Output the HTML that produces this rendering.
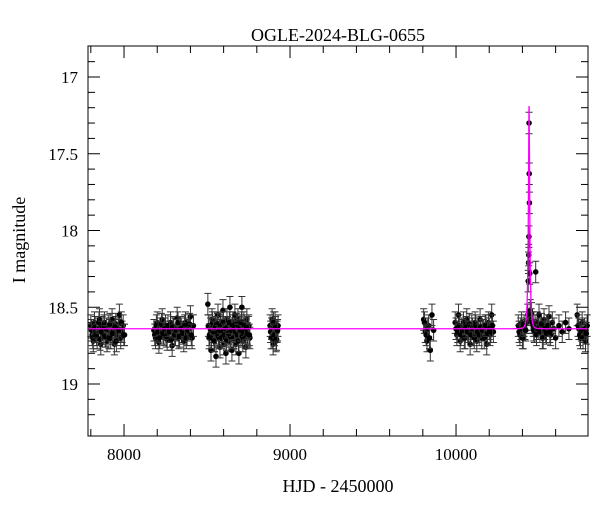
<!DOCTYPE html>
<html><head><meta charset="utf-8"><style>
body{margin:0;background:#fff}
svg text{font-family:"Liberation Serif",serif;fill:#000}
</style></head><body>
<svg id="chart" width="600" height="512">
<text x="338" y="41" font-size="18" text-anchor="middle">OGLE-2024-BLG-0655</text>
<text x="338" y="492" font-size="18" text-anchor="middle">HJD - 2450000</text>
<text transform="translate(25,240) rotate(-90)" font-size="18" text-anchor="middle">I magnitude</text>
<g id="ticks"></g>
<g id="pts"></g>
<path id="model" fill="none" stroke="#ff00ff" stroke-width="1.3"/>
<rect x="88" y="46" width="500" height="390" fill="none" stroke="#000" stroke-width="1"/>
</svg>
<script>
const xTicks=[8000,9000,10000];
const yTicks=[17,17.5,18,18.5,19];
const yTickLabels=["17","17.5","18","18.5","19"];
const hjd=[7800,7808,7815,7822,7830,7838,7845,7852,7860,7868,7875,7882,7890,7898,7905,7912,7920,7928,7935,7942,7950,7958,7965,7972,7980,7988,7995,8003,
7804,7812,7826,7834,7849,7856,7864,7879,7886,7894,7909,7916,7931,7946,7954,7969,7984,7999,
8180,8190,8200,8210,8220,8230,8240,8250,8260,8270,8280,8290,8300,8310,8320,8330,8340,8350,8360,8370,8380,8390,8400,8410,8418,
8185,8195,8205,8215,8225,8235,8245,8255,8265,8275,8285,8295,8305,8315,8325,8335,8345,8355,8365,8375,8385,8395,8405,
8505,8512,8518,8524,8530,8536,8542,8548,8554,8560,8566,8572,8578,8584,8590,8596,8602,8608,8614,8620,8626,8632,8638,8644,8650,8656,8662,8668,8674,8680,8686,8692,8698,8704,8710,8716,8722,8728,8734,8740,8746,8752,8758,
8508,8515,8521,8527,8533,8539,8545,8551,8557,8563,8569,8575,8581,8587,8593,8599,8605,8611,8617,8623,8629,8635,8641,8647,8653,8659,8665,8671,8677,8683,8689,8695,8701,8707,8713,8719,8725,8731,8737,8743,8749,8755,
8880,8886,8892,8898,8904,8910,8916,8922,8928,8883,8889,8895,8901,8907,8913,8919,8925,
9805,9815,9825,9835,9845,9855,9865,9810,9820,9830,9840,
9995,10005,10015,10025,10035,10045,10055,10065,10075,10085,10095,10105,10115,10125,10135,10145,10155,10165,10175,10185,10195,10205,10215,10225,
10000,10010,10020,10030,10040,10050,10060,10070,10080,10090,10100,10110,10120,10130,10140,10150,10160,10170,10180,10190,10200,10210,10220,
10375,10385,10395,10405,10415,10425,10432,10435,10437,10438,10439,10440,10441,10442,10444,10447,10452,10458,10465,10472,10480,10490,10500,10510,10520,10530,10540,10550,10560,10570,10580,10590,10600,10620,10640,10660,10680,
10380,10390,10400,10410,10420,10455,10462,10468,10476,10485,10495,10505,10515,10525,10535,10545,10555,10565,
10730,10740,10750,10760,10770,10780,10790,10735,10745,10755,10765,10775,10785];
const mag=[18.62,18.68,18.72,18.6,18.66,18.7,18.64,18.58,18.74,18.63,18.67,18.6,18.69,18.72,18.62,18.65,18.7,18.58,18.66,18.74,18.61,18.68,18.64,18.55,18.7,18.66,18.62,18.68,
18.65,18.7,18.63,18.68,18.6,18.71,18.66,18.62,18.69,18.64,18.7,18.61,18.67,18.63,18.72,18.65,18.6,18.68,
18.65,18.7,18.6,18.73,18.64,18.58,18.68,18.62,18.71,18.66,18.6,18.75,18.64,18.68,18.57,18.7,18.63,18.66,18.72,18.6,18.68,18.64,18.56,18.7,18.62,
18.68,18.62,18.66,18.7,18.61,18.67,18.64,18.69,18.62,18.66,18.71,18.63,18.68,18.65,18.6,18.69,18.64,18.67,18.62,18.7,18.65,18.61,18.68,
18.48,18.7,18.62,18.78,18.58,18.66,18.72,18.6,18.82,18.64,18.55,18.7,18.76,18.6,18.68,18.52,18.74,18.63,18.8,18.58,18.67,18.72,18.5,18.65,18.78,18.6,18.7,18.55,18.74,18.64,18.58,18.8,18.62,18.68,18.5,18.72,18.6,18.66,18.76,18.58,18.69,18.62,18.7,
18.62,18.68,18.64,18.7,18.6,18.66,18.72,18.63,18.67,18.61,18.69,18.65,18.62,18.7,18.66,18.6,18.68,18.64,18.71,18.63,18.67,18.6,18.69,18.65,18.62,18.7,18.64,18.66,18.61,18.68,18.72,18.63,18.65,18.6,18.69,18.66,18.62,18.7,18.64,18.67,18.63,18.68,
18.62,18.7,18.58,18.74,18.65,18.6,18.72,18.66,18.62,18.66,18.64,18.7,18.6,18.68,18.63,18.71,18.65,
18.58,18.66,18.72,18.62,18.78,18.55,18.65,18.6,18.68,18.64,18.7,
18.6,18.68,18.55,18.72,18.64,18.6,18.7,18.58,18.66,18.74,18.62,18.68,18.6,18.72,18.64,18.58,18.7,18.65,18.62,18.74,18.6,18.68,18.55,18.66,
18.64,18.66,18.62,18.68,18.65,18.7,18.63,18.66,18.61,18.68,18.64,18.7,18.62,18.66,18.68,18.63,18.65,18.7,18.62,18.67,18.64,18.66,18.62,
18.62,18.68,18.6,18.7,18.64,18.6,18.55,18.33,18.21,18.16,18.04,17.3,17.63,17.82,18.28,18.52,18.58,18.6,18.62,18.66,18.27,18.6,18.55,18.64,18.7,18.58,18.66,18.62,18.56,18.68,18.6,18.64,18.7,18.62,18.66,18.6,18.64,
18.66,18.64,18.7,18.62,18.65,18.54,18.6,18.65,18.62,18.68,18.64,18.66,18.61,18.7,18.64,18.67,18.62,18.66,
18.55,18.64,18.7,18.6,18.66,18.72,18.62,18.62,18.68,18.65,18.7,18.64,18.67];
const err=0.07;
const modelT0=[10440],modelTE=[9],modelU0=[0.27],modelBase=[18.64];
const X=t=>88+(t-7783)*0.166;
const Y=m=>77+(m-17)*153.5;
const NS="http://www.w3.org/2000/svg";
function mk(tag,attrs,parent){const e=document.createElementNS(NS,tag);for(const k in attrs)e.setAttribute(k,attrs[k]);parent.appendChild(e);return e;}
const tg=document.getElementById('ticks');
for(let t=7800;t<=10700;t+=200){const x=X(t),L=(t%1000===0)?12:7;
 const a=mk('line',{x1:x,x2:x,y1:436,y2:436-L,stroke:'#000'},tg);
 const b=mk('line',{x1:x,x2:x,y1:46,y2:46+L,stroke:'#000'},tg);}
xTicks.forEach(t=>{const e=mk('text',{x:X(t),y:460,'font-size':17,'text-anchor':'middle'},tg);e.textContent=t;});
for(let i=0;i<=23;i++){const m=16.9+i*0.1,y=Y(m);if(y<46||y>436)continue;const maj=Math.abs(m*2-Math.round(m*2))<1e-6;const L=maj?12:7;
 const a=mk('line',{x1:88,x2:88+L,y1:y,y2:y,stroke:'#000'},tg);
 const b=mk('line',{x1:588,x2:588-L,y1:y,y2:y,stroke:'#000'},tg);}
yTicks.forEach((m,i)=>{const e=mk('text',{x:78,y:Y(m)+6,'font-size':17,'text-anchor':'end'},tg);e.textContent=yTickLabels[i];});
const pg=document.getElementById('pts');
hjd.forEach((t,i)=>{const x=X(t),y=Y(mag[i]),y1=Y(mag[i]-err),y2=Y(mag[i]+err);
 const g=mk('g',{},pg);
 mk('path',{d:`M${x},${y1}V${y2}M${x-3.5},${y1}H${x+3.5}M${x-3.5},${y2}H${x+3.5}`,stroke:'#333','stroke-width':1},g);
 mk('circle',{cx:x,cy:y,r:2.8,fill:'#000'},g);});
let d='';for(let t=7783;t<=10795;t+=(Math.abs(t-modelT0[0])<60?0.25:5)){const u=Math.sqrt(modelU0[0]**2+((t-modelT0[0])/modelTE[0])**2);const A=(u*u+2)/(u*Math.sqrt(u*u+4));const m=modelBase[0]-2.5*Math.log10(A);d+=(d?'L':'M')+X(t).toFixed(2)+','+Y(m).toFixed(2);}
document.getElementById('model').setAttribute('d',d);
</script>
</body></html>
